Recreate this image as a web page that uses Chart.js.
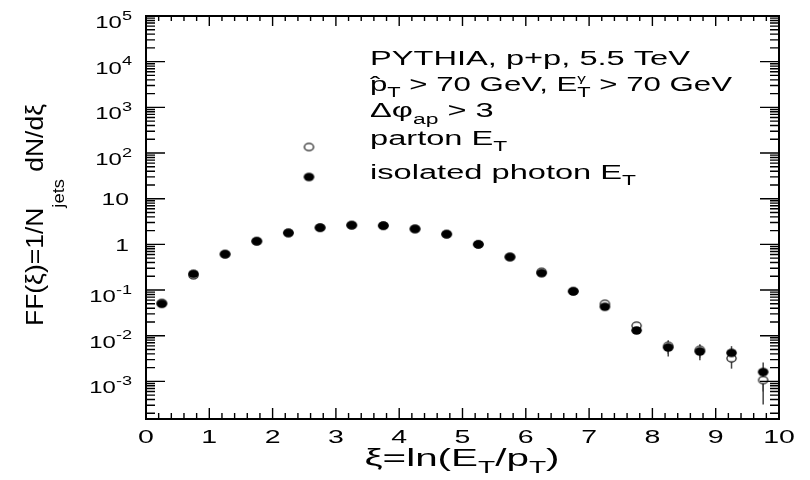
<!DOCTYPE html>
<html>
<head>
<meta charset="utf-8">
<script src="https://cdn.jsdelivr.net/npm/chart.js@4.4.1/dist/chart.umd.min.js"></script>
<style>
html,body{margin:0;padding:0;background:#fff;}
#c{display:block;}
</style>
</head>
<body>
<canvas id="c" width="810" height="480"></canvas>
<script>
// ---- data ----
const xi = [0.25,0.75,1.25,1.75,2.25,2.75,3.25,3.75,4.25,4.75,5.25,5.75,6.25,6.75,7.25,7.75,8.25,8.75,9.25,9.75];
const photonFF = [0.050,0.226,0.61,1.17,1.78,2.32,2.63,2.57,2.18,1.67,1.00,0.53,0.234,0.093,0.043,0.0130,0.0055,0.0045,0.0042,0.0016];
const photonErr = [0.003,0.008,0.02,0.03,0.04,0.05,0.05,0.05,0.04,0.04,0.03,0.02,0.01,0.005,0.003,0.0012,0.0020,0.0016,0.0017,0.0010];
const partonFF = [0.052,0.210,0.61,1.17,1.78,2.32,2.63,2.57,2.18,1.67,1.00,0.53,0.250,0.095,0.050,0.0166,0.0060,0.0049,0.0032,0.00107];
const partonErr = [0.003,0.008,0.02,0.03,0.04,0.05,0.05,0.05,0.04,0.04,0.03,0.02,0.01,0.005,0.003,0.0012,0.0020,0.0016,0.0013,0.00076];
const xTickLabels = ['0','1','2','3','4','5','6','7','8','9','10'];
const yDecades = [-3,-2,-1,0,1,2,3,4,5];

const FONT = '"Liberation Sans", Arial, Helvetica, sans-serif';

function makeMarker(filled){
  const c = document.createElement('canvas');
  c.width = 13; c.height = 11;
  const g = c.getContext('2d');
  g.beginPath();
  if(filled){
    g.ellipse(6.5,5.5,5.3,4.2,0,0,Math.PI*2);
    g.fillStyle='#000'; g.fill();
  } else {
    g.ellipse(6.5,5.5,4.6,3.6,0,0,Math.PI*2);
    g.fillStyle='#fff'; g.fill();
    g.lineWidth=1.3; g.strokeStyle='#222'; g.stroke();
  }
  return c;
}
const mFilled = makeMarker(true);
const mOpen = makeMarker(false);

function pts(vals){ return xi.map((x,i)=>({x:x,y:vals[i]})); }

function segWidth(ctx, segs){
  let w=0, last=0;
  for(const sg of segs){
    ctx.font = sg.s+'px '+FONT;
    const m = ctx.measureText(sg.t).width;
    if(sg.stack){ w = w - last + Math.max(last,m); last = Math.max(last,m); }
    else { w += m; last = m; }
  }
  return w;
}
function drawSegs(ctx, segs){
  let x=0, last=0, startLast=0;
  for(const sg of segs){
    ctx.font = sg.s+'px '+FONT;
    const m = ctx.measureText(sg.t).width;
    if(sg.stack){
      ctx.fillText(sg.t, startLast, sg.dy||0);
      const nl = Math.max(last,m);
      x = startLast + nl; last = nl;
    } else {
      ctx.fillText(sg.t, x, sg.dy||0);
      startLast = x; x += m; last = m;
    }
  }
}
function rich(ctx, segs, x, y, align, sx){
  const w = segWidth(ctx, segs)*sx;
  let x0 = x;
  if(align==='center') x0 = x - w/2;
  else if(align==='right') x0 = x - w;
  ctx.save();
  ctx.translate(x0, y);
  ctx.scale(sx,1);
  ctx.textBaseline='alphabetic';
  ctx.textAlign='left';
  ctx.fillStyle='#000';
  drawSegs(ctx, segs);
  ctx.restore();
}

const errorBars = {
  id:'errorBars',
  beforeDatasetsDraw(chart){
    const ctx = chart.ctx, ys = chart.scales.y, xs = chart.scales.x;
    ctx.save();
    ctx.strokeStyle='#444'; ctx.lineWidth=1.5;
    const sets = [[partonFF,partonErr],[photonFF,photonErr]];
    for(const [v,e] of sets){
      for(let i=0;i<xi.length;i++){
        const px = xs.getPixelForValue(xi[i]);
        const lo = Math.max(v[i]-e[i], ys.min);
        ctx.beginPath();
        ctx.moveTo(px, ys.getPixelForValue(v[i]+e[i]));
        ctx.lineTo(px, ys.getPixelForValue(lo));
        ctx.stroke();
      }
    }
    ctx.restore();
  }
};

const decor = {
  id:'decor',
  afterDraw(chart){
    const ctx = chart.ctx, a = chart.chartArea;
    const xs = chart.scales.x, ys = chart.scales.y;
    ctx.save();
    ctx.strokeStyle='#000'; ctx.lineWidth=1.4;
    ctx.beginPath();
    for(let k=0;k<=50;k++){
      const v = k*0.2, px = xs.getPixelForValue(v);
      const major = (k%5===0);
      const lb = major?11:6, lt = major?10:5;
      ctx.moveTo(px,a.bottom); ctx.lineTo(px,a.bottom-lb);
      ctx.moveTo(px,a.top); ctx.lineTo(px,a.top+lt);
    }
    for(let d=-4; d<=4; d++){
      for(let m=1;m<=9;m++){
        const v = m*Math.pow(10,d);
        if(v<ys.min || v>ys.max) continue;
        const py = ys.getPixelForValue(v);
        const len = (m===1)?19:9;
        ctx.moveTo(a.left,py); ctx.lineTo(a.left+len,py);
        ctx.moveTo(a.right,py); ctx.lineTo(a.right-len,py);
      }
    }
    ctx.stroke();
    ctx.lineWidth=2;
    ctx.strokeRect(a.left, a.top, a.right-a.left, a.bottom-a.top);
    ctx.restore();

    // x tick labels
    xTickLabels.forEach((lab)=>{
      const px = xs.getPixelForValue(parseFloat(lab));
      rich(ctx,[{t:lab,s:19}], px, 443, 'center', 1.5);
    });
    // y tick labels
    yDecades.forEach((d)=>{
      const py = ys.getPixelForValue(Math.pow(10,d));
      if(d===0) rich(ctx,[{t:'1',s:17}], 129, py+6.5, 'right', 1.45);
      else if(d===1) rich(ctx,[{t:'10',s:17}], 129, py+6.5, 'right', 1.45);
      else rich(ctx,[{t:'10',s:16.5},{t:String(d),s:12.5,dy:-8.5}], 132, py+12, 'right', 1.45);
    });
    // x title
    const xsegs = [{t:'ξ=ln(E',s:23},{t:'T',s:16,dy:7},{t:'/p',s:23},{t:'T',s:16,dy:7},{t:')',s:23}];
    rich(ctx, xsegs, 462, 466, 'center', 195/segWidth(ctx,xsegs));

    // y title rotated
    ctx.save();
    ctx.translate(43, 215);
    ctx.rotate(-Math.PI/2);
    const ysegs = [{t:'FF(ξ)=1/N',s:23},{t:'jets',s:16,dy:21},{t:' dN/dξ',s:23}];
    rich(ctx, ysegs, 0, 0, 'center', 222/segWidth(ctx, ysegs));
    ctx.restore();

    // legend text
    const L = 370, S = 20, SS = 14;
    const l1 = [{t:'PYTHIA, p+p, 5.5 TeV',s:S}];
    const sxL = 320/segWidth(ctx,l1);
    rich(ctx,l1, L, 65, 'left', sxL);
    const l2 = [{t:'p',s:S},{t:'ˆ',s:S,stack:true},{t:'T',s:SS,dy:6},{t:' > 70 GeV, E',s:S},{t:'γ',s:11,dy:-9},{t:'T',s:SS,dy:6,stack:true},{t:' > 70 GeV',s:S}];
    rich(ctx,l2, L, 91, 'left', 362/segWidth(ctx,l2));
    rich(ctx,[{t:'Δφ',s:S},{t:'ap',s:SS,dy:7},{t:' > 3',s:S}], L, 117, 'left', sxL);
    rich(ctx,[{t:'parton E',s:S},{t:'T',s:SS,dy:6}], L, 145, 'left', sxL);
    rich(ctx,[{t:'isolated photon E',s:S},{t:'T',s:SS,dy:6}], L, 179, 'left', sxL);
    ctx.drawImage(mOpen, 309-6.5, 147-5.5);
    ctx.drawImage(mFilled, 309-6.5, 177-5.5);
  }
};

new Chart(document.getElementById('c'), {
  type:'scatter',
  data:{
    datasets:[
      {label:'isolated photon E_T', data:pts(photonFF), pointStyle:mFilled, pointRadius:5, order:1, showLine:false},
      {label:'parton E_T', data:pts(partonFF), pointStyle:mOpen, pointRadius:5, order:2, showLine:false}
    ]
  },
  options:{
    responsive:false,
    animation:false,
    devicePixelRatio:1,
    layout:{padding:{left:146,right:31,top:16,bottom:61}},
    plugins:{legend:{display:false},tooltip:{enabled:false},title:{display:false}},
    scales:{
      x:{type:'linear',min:0,max:10,display:false},
      y:{type:'logarithmic',min:1.5e-4,max:1e5,display:false}
    }
  },
  plugins:[errorBars, decor]
});
</script>
</body>
</html>
